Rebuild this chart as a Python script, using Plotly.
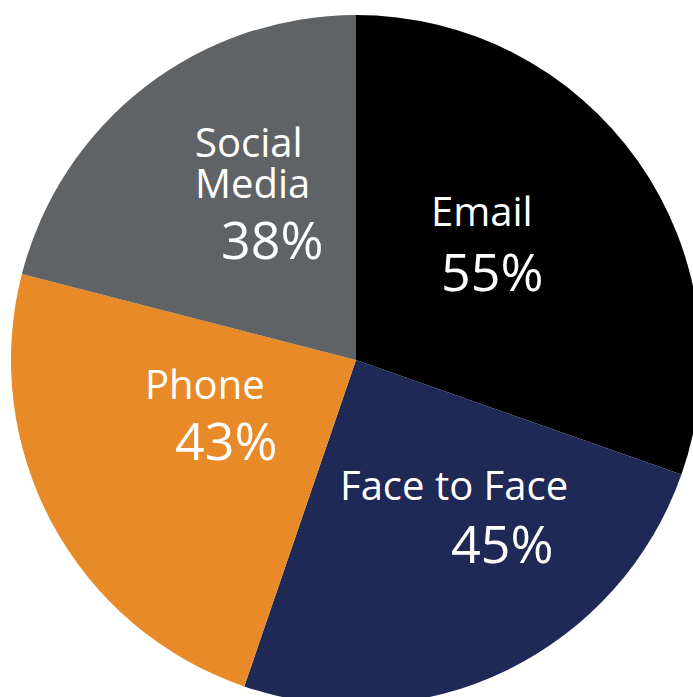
import plotly.graph_objects as go

categories = ["Email", "Face to Face", "Phone", "Social Media"]
values = [55, 45, 43, 38]
label_lines = [["Email"], ["Face to Face"], ["Phone"], ["Social", "Media"]]
pct_labels = ["55%", "45%", "43%", "38%"]
colors = ["#000000", "#1f2955", "#e88a28", "#606366"]

W, H = 712, 720
# pie pixel box: center (356, 360), radius 345
x0, x1, ytop, ybot = 11, 701, 15, 705

fig = go.Figure(go.Pie(
    labels=categories, values=values, sort=False, direction="clockwise",
    rotation=0, textinfo="none", hoverinfo="label+value",
    marker=dict(colors=colors, line=dict(width=0)),
    domain=dict(x=[x0 / W, x1 / W], y=[(H - ybot) / H, (H - ytop) / H]),
    showlegend=False,
))

# text placement (pixel left edge, cap-centre y)
label_pos = [[(433, 212)], [(342, 486)], [(147, 385)], [(197, 143), (197, 184)]]
pct_pos = [(443, 272), (453, 544), (177, 441), (223, 241)]

FONT = "Open Sans"
ann = []
for lines, poss, pct, ppos in zip(label_lines, label_pos, pct_labels, pct_pos):
    for t, (px, py) in zip(lines, poss):
        ann.append(dict(text=t, x=(px - 3) / W, y=1 - (py - 2) / H, xref="paper", yref="paper",
                        xanchor="left", yanchor="middle", showarrow=False, borderpad=0,
                        height=38, valign="middle",
                        font=dict(family=FONT, size=40, color="white")))
    px, py = ppos
    ann.append(dict(text=pct, x=(px - 3) / W, y=1 - (py - 2) / H, xref="paper", yref="paper",
                    xanchor="left", yanchor="middle", showarrow=False, borderpad=0,
                    font=dict(family=FONT, size=52, color="white")))

fig.update_layout(width=W, height=H, margin=dict(l=0, r=0, t=0, b=0),
                  paper_bgcolor="white", plot_bgcolor="white", annotations=ann)

fig.write_html("out.html", config={"displayModeBar": False},
               post_script="document.body.style.overflow='hidden';document.documentElement.style.overflow='hidden';")
